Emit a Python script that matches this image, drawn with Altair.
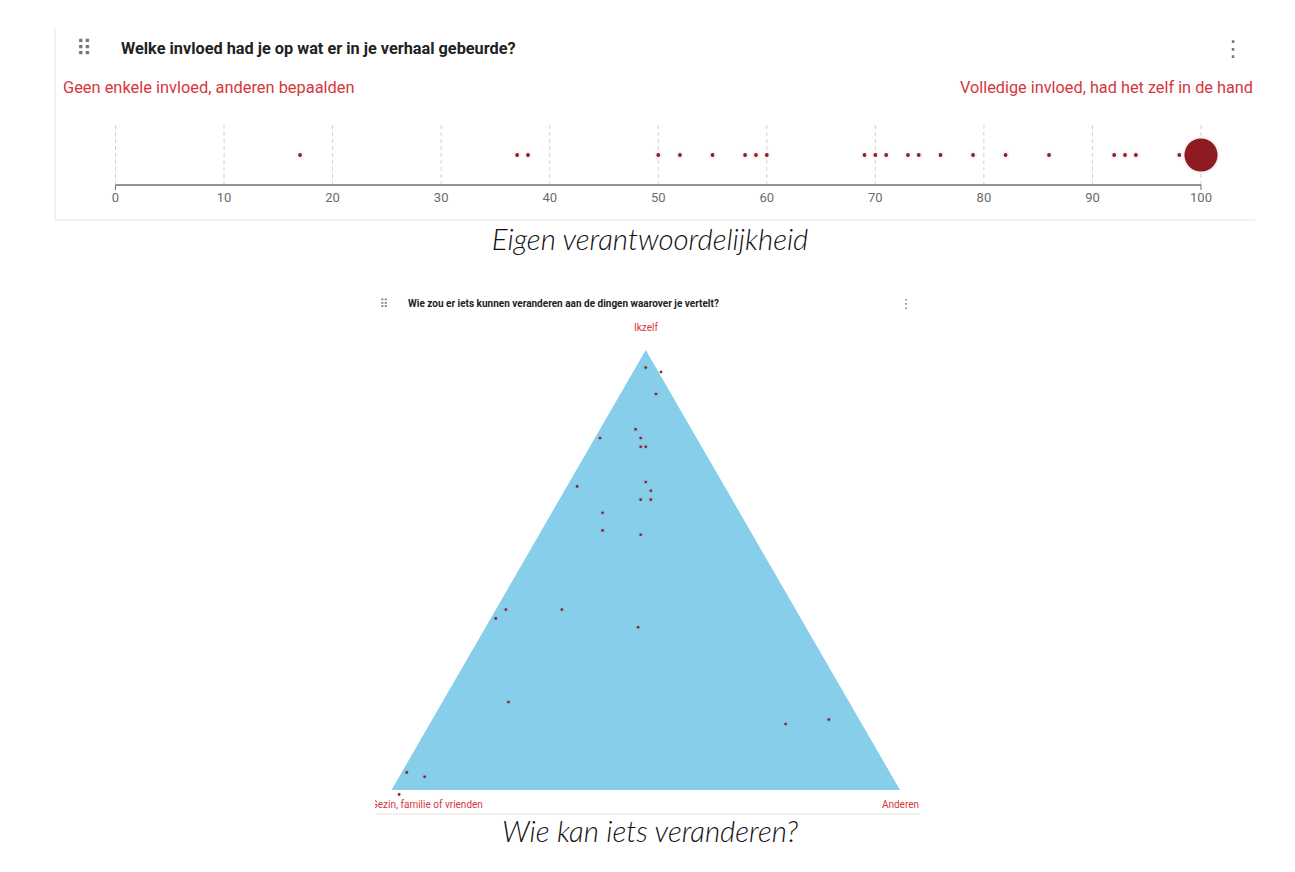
import altair as alt
import pandas as pd

# ---------------- data: strip chart (influence 0-100) ----------------
INFLUENCE = [17, 37, 38, 50, 52, 55, 58, 59, 60, 69, 70, 71, 73, 74, 76, 79, 82, 86, 92, 93, 94, 98, 100]
COUNTS = [1, 1, 1, 1, 1, 1, 1, 1, 1, 1, 1, 1, 1, 1, 1, 1, 1, 1, 1, 1, 1, 1, 78]
TICKS = [0, 10, 20, 30, 40, 50, 60, 70, 80, 90, 100]
TICK_LABELS = ["0", "10", "20", "30", "40", "50", "60", "70", "80", "90", "100"]

# ---------------- data: ternary plot (shares in %) ----------------
IKZELF = [96, 95, 90, 82, 80, 80, 78, 78, 69, 70, 68, 66, 66, 63, 59, 58, 41, 39, 41, 37, 20, 15, 16, 4, 3, -1]
GEZIN = [2, -0.5, 3, 11, 11, 19, 12, 11, 29, 15, 15, 18, 16, 27, 29, 22, 57, 60, 46, 33, 67, 15, 6, 95, 92, 99]
ANDEREN = [2, 5.5, 7, 7, 9, 1, 10, 11, 2, 15, 17, 16, 18, 10, 12, 20, 2, 1, 13, 30, 13, 70, 78, 1, 5, 2]

# triangle corners (Gezin, Ikzelf, Anderen)
CORNER_IKZELF = [0, 100, 0]
CORNER_GEZIN = [100, 0, 0]
CORNER_ANDEREN = [0, 0, 100]

TITLE_1 = "Welke invloed had je op wat er in je verhaal gebeurde?"
LEFT_1 = "Geen enkele invloed, anderen bepaalden"
RIGHT_1 = "Volledige invloed, had het zelf in de hand"
CAPTION_1 = "Eigen verantwoordelijkheid"
TITLE_2 = "Wie zou er iets kunnen veranderen aan de dingen waarover je vertelt?"
TOP_2 = "Ikzelf"
LEFT_2 = "Gezin, familie of vrienden"
RIGHT_2 = "Anderen"
CAPTION_2 = "Wie kan iets veranderen?"

RED = "#8e1b21"
LABEL_RED = "#d6363c"
FONT = "Roboto"

xs_strip = alt.Scale(domain=[0, 100], range=[107.5, 1193])
xs_tri = alt.Scale(domain=[0, 1], range=[383.5, 892])
ys_tri = alt.Scale(domain=[0, 1], range=[782, 342])


def text_layer(txt, x, y, size, color, align="left", weight="normal", style="normal", font=FONT):
    return alt.Chart(pd.DataFrame({"t": [txt]})).mark_text(
        align=align, baseline="middle", fontSize=size, color=color,
        fontWeight=weight, fontStyle=style, font=font
    ).encode(x=alt.value(x), y=alt.value(y), text="t:N")


def line_layer(x, y, x2, y2, color="#e4e4e4", width=1):
    return alt.Chart(pd.DataFrame({"k": [0]})).mark_rule(color=color, strokeWidth=width).encode(
        x=alt.value(x), y=alt.value(y), x2=alt.value(x2), y2=alt.value(y2)
    )


# ---------------- strip chart ----------------
strip_df = pd.DataFrame({"v": INFLUENCE, "n": COUNTS})
tick_df = pd.DataFrame({"t": TICKS, "lab": TICK_LABELS})
axis_df = pd.DataFrame({"lo": [TICKS[0]], "hi": [TICKS[-1]]})

grid = alt.Chart(tick_df).mark_rule(color="#d2d2d2", strokeDash=[4, 3], strokeWidth=1).encode(
    x=alt.X("t:Q", scale=xs_strip, axis=None), y=alt.value(117), y2=alt.value(177)
)
axis_line = alt.Chart(axis_df).mark_rule(color="#707070", strokeWidth=1.5).encode(
    x=alt.X("lo:Q", scale=xs_strip, axis=None), x2="hi:Q", y=alt.value(177)
)
end_ticks = alt.Chart(tick_df).transform_filter(
    (alt.datum.t == TICKS[0]) | (alt.datum.t == TICKS[-1])
).mark_rule(color="#707070", strokeWidth=1).encode(
    x=alt.X("t:Q", scale=xs_strip, axis=None), y=alt.value(177), y2=alt.value(182)
)
tick_labels = alt.Chart(tick_df).mark_text(fontSize=13, color="#6b6b6b", font=FONT, baseline="middle").encode(
    x=alt.X("t:Q", scale=xs_strip, axis=None), y=alt.value(190), text="lab:N"
)
halo = alt.Chart(strip_df).mark_circle(color=RED, opacity=0.05).encode(
    x=alt.X("v:Q", scale=xs_strip, axis=None), y=alt.value(147),
    size=alt.Size("n:Q", scale=alt.Scale(domain=[0, 78], range=[45, 1400]), legend=None)
)
dots = alt.Chart(strip_df).mark_circle(color=RED, opacity=1).encode(
    x=alt.X("v:Q", scale=xs_strip, axis=None), y=alt.value(147),
    size=alt.Size("n:Q", scale=alt.Scale(domain=[0, 78], range=[0, 1100]), legend=None)
)

# ---------------- ternary plot ----------------
tri_df = pd.DataFrame({"b": CORNER_GEZIN, "a": CORNER_IKZELF, "c": CORNER_ANDEREN})
triangle = alt.Chart(tri_df).transform_calculate(
    X="(datum.c + datum.a / 2) / 100", Y="datum.a / 100"
).mark_area(color="#87ceeb", opacity=1, interpolate="linear").encode(
    x=alt.X("X:Q", scale=xs_tri, axis=None),
    y=alt.Y("Y:Q", scale=ys_tri, axis=None),
    y2=alt.datum(0),
)
pts_df = pd.DataFrame({"a": IKZELF, "b": GEZIN, "c": ANDEREN})
tri_halo = alt.Chart(pts_df).transform_calculate(
    X="(datum.c + datum.a / 2) / 100", Y="datum.a / 100"
).mark_circle(color=RED, opacity=0.06, size=30).encode(
    x=alt.X("X:Q", scale=xs_tri, axis=None), y=alt.Y("Y:Q", scale=ys_tri, axis=None)
)
tri_pts = alt.Chart(pts_df).transform_calculate(
    X="(datum.c + datum.a / 2) / 100", Y="datum.a / 100"
).mark_circle(color=RED, opacity=1, size=7).encode(
    x=alt.X("X:Q", scale=xs_tri, axis=None), y=alt.Y("Y:Q", scale=ys_tri, axis=None)
)
clip_rect = alt.Chart(pd.DataFrame({"k": [0]})).mark_rect(color="white").encode(
    x=alt.value(350), x2=alt.value(367), y=alt.value(789), y2=alt.value(805)
)

layers = [
    # card 1
    line_layer(47, 20, 47, 212),
    line_layer(47, 212, 1247, 212),
    text_layer("\u283f", 76, 41, 22, "#757575", align="center", font="DejaVu Sans"),
    text_layer(TITLE_1, 113, 41, 16.3, "#222222", weight="bold"),
    text_layer("\u22ee", 1225, 41, 22, "#757575", align="center", font="DejaVu Sans"),
    text_layer(LEFT_1, 55, 80, 16.4, LABEL_RED),
    text_layer(RIGHT_1, 1245, 80, 16.3, LABEL_RED, align="right"),
    grid, axis_line, end_ticks, tick_labels, halo, dots,
    text_layer(CAPTION_1, 642, 233, 29.4, "#111111", align="center", style="italic", weight=300, font="Lato"),
    # card 2
    line_layer(367, 806, 913, 806),
    text_layer("\u283f", 376, 296, 12, "#757575", align="center", font="DejaVu Sans"),
    text_layer(TITLE_2, 400, 296, 10, "#222222", weight="bold"),
    text_layer("\u22ee", 898, 296, 13, "#757575", align="center", font="DejaVu Sans"),
    text_layer(TOP_2, 638, 320, 10, LABEL_RED, align="center"),
    triangle, tri_halo, tri_pts,
    text_layer(LEFT_2, 363, 797, 10, LABEL_RED),
    clip_rect,
    text_layer(RIGHT_2, 911, 797, 10, LABEL_RED, align="right"),
    text_layer(CAPTION_2, 642, 825, 29.4, "#111111", align="center", style="italic", weight=300, font="Lato"),
]

chart = alt.layer(*layers).resolve_scale(
    x="independent", y="independent", size="independent"
).properties(
    width=1279, height=856, autosize=alt.AutoSizeParams(type="none"), padding=0
).configure_view(stroke=None)

chart.save("out.html", embed_options={"renderer": "svg", "actions": False})
